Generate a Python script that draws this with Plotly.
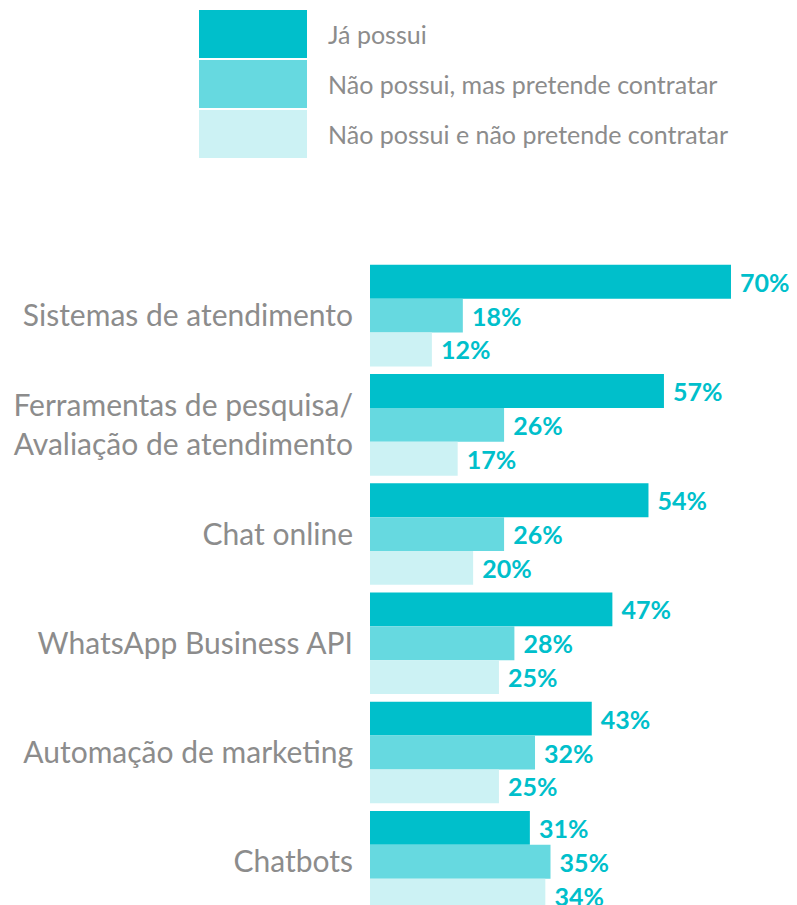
import plotly.graph_objects as go

categories = [
    "Sistemas de atendimento",
    "Ferramentas de pesquisa/<br>Avaliação de atendimento",
    "Chat online",
    "WhatsApp Business API",
    "Automação de marketing",
    "Chatbots",
]
series_names = ["Já possui", "Não possui, mas pretende contratar", "Não possui e não pretende contratar"]
ja_possui = [70, 57, 54, 47, 43, 31]
pretende = [18, 26, 26, 28, 32, 35]
nao_pretende = [12, 17, 20, 25, 25, 34]
series_values = [ja_possui, pretende, nao_pretende]
colors = ["#00BFCB", "#66D9E0", "#CCF2F4"]
TEAL = "#00BFCB"
GRAY = "#8C8C8C"

fig = go.Figure()
for name, vals, col in zip(series_names, series_values, colors):
    fig.add_trace(go.Bar(
        y=categories, x=vals, name=name, orientation="h",
        marker=dict(color=col, line=dict(width=0)),
        texttemplate=" %{x}%", textposition="outside",
        textfont=dict(family="Lato", size=25, color=TEAL, weight=700),
        constraintext="none", cliponaxis=False,
        showlegend=False,
    ))

# plot area in page pixels: x 370..797, y 261..905 (page has 8px body margin)
PX0, PW, PY0, PH = 370, 427, 261, 644

# custom legend (big swatches)
for i, (name, col) in enumerate(zip(series_names, colors)):
    y0 = 10 + i * 50
    fig.add_shape(type="rect", xref="paper", yref="paper",
                  x0=(199 - PX0) / PW, x1=(307 - PX0) / PW,
                  y0=1 + (PY0 - y0) / PH, y1=1 + (PY0 - (y0 + 48)) / PH,
                  fillcolor=col, line=dict(width=0), layer="above")
    fig.add_annotation(xref="paper", yref="paper",
                       x=(326 - PX0) / PW, y=1 + (PY0 - (y0 + 24)) / PH,
                       text=name, showarrow=False, xanchor="left", yanchor="middle",
                       font=dict(family="Lato", size=25, color=GRAY))

fig.update_layout(
    width=789, height=897,
    margin=dict(l=362, r=0, t=253, b=0, autoexpand=False),
    barmode="group", bargap=0.07, bargroupgap=0,
    plot_bgcolor="white", paper_bgcolor="white",
    xaxis=dict(range=[0, 82.8], visible=False, showgrid=False, zeroline=False),
    yaxis=dict(categoryorder="array", categoryarray=categories,
               range=[5.396, -0.5], showgrid=False, zeroline=False, showline=False,
               ticks="", ticklabelstandoff=16,
               tickfont=dict(family="Lato", size=30, color=GRAY)),
    font=dict(family="Lato"),
)

fig.write_html("out.html")
